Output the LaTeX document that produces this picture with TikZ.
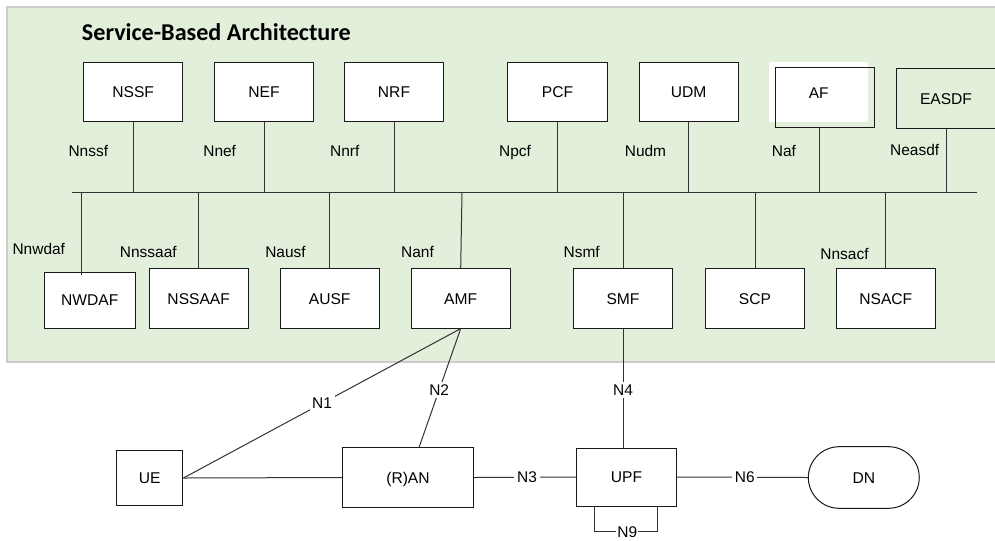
\documentclass[tikz,border=0pt]{standalone}
\usepackage{fontspec}
\setmainfont{Liberation Sans}
\newfontfamily\titlefont{Carlito}
\usetikzlibrary{calc}
\definecolor{sbagreen}{HTML}{E2EFDA}
\definecolor{sbaedge}{HTML}{CCCCCC}
\definecolor{wire}{HTML}{333333}
\begin{document}
\begin{tikzpicture}[x=0.75pt,y=-0.75pt,
  nf/.style={draw=black!90, fill=white, line width=0.75pt, inner sep=0pt,
    font=\fontsize{11.7}{14}\selectfont, text height=8.6pt, text depth=0pt,
    minimum width=74.5pt, minimum height=44.7pt},
  lbl/.style={inner sep=0.5pt, font=\fontsize{11.6}{14}\selectfont,
    text height=8.5pt, text depth=0pt},
  ilbl/.style={lbl, fill=white, inner sep=2pt},
  wirel/.style={draw=wire, line width=0.75pt}]
\useasboundingbox (0,0) rectangle (995,540);

% service-based area
\fill[sbagreen] (7,7) rectangle (995,362);
\draw[sbaedge, line width=0.9pt] (995,7) -- (7,7) -- (7,362) -- (995,362);
\node[anchor=west, inner sep=0pt, font=\titlefont\bfseries\fontsize{18.1}{22}\selectfont]
  (title) at (81.7,31.7) {Service-Based Architecture};

% upper network functions
\node[nf] (nssf) at (133.2,91.9) {NSSF};
\node[nf] (nef)  at (264,91.9)   {NEF};
\node[nf] (nrf)  at (394,91.9)   {NRF};
\node[nf] (pcf)  at (557.5,91.9) {PCF};
\node[nf] (udm)  at (688.7,91.9) {UDM};
\node[fill=white, inner sep=0pt, minimum width=74.5pt, minimum height=44.7pt] (afbg) at (818.8,91.9) {};
\node[draw=black!90, line width=0.75pt, inner sep=0pt, minimum width=74.5pt, minimum height=44.7pt] (af) at (824.8,97.3) {};
\node[lbl, inner sep=0pt] (aftext) at (818.8,92.4) {AF};
\node[nf, fill=none] (easdf) at (946,98.5) {EASDF};

% lower network functions
\node[nf, minimum width=68.5pt, minimum height=42pt] (nwdaf) at (89.7,300) {NWDAF};
\node[nf] (nssaaf) at (198.7,298.3) {NSSAAF};
\node[nf] (ausf)   at (329.7,298.3) {AUSF};
\node[nf] (amf)    at (460.7,298.3) {AMF};
\node[nf] (smf)    at (623,298.3)   {SMF};
\node[nf] (scp)    at (755,298.3)   {SCP};
\node[nf] (nsacf)  at (885.8,298.3) {NSACF};

% service bus
\coordinate (busL) at (71.7,192.3);
\coordinate (busR) at (976.7,192.3);
\draw[wirel] (busL) -- (busR);

\draw[wirel] (nssf.south) -- (nssf.south |- busL);
\draw[wirel] (nef.south)  -- (nef.south |- busL);
\draw[wirel] (nrf.south)  -- (nrf.south |- busL);
\draw[wirel] (pcf.south)  -- (pcf.south |- busL);
\draw[wirel] (udm.south)  -- (udm.south |- busL);
\coordinate (afport) at ($(af.south)+(-5,0)$);
\draw[wirel] (afport) -- (afport |- busL);
\draw[wirel] (easdf.south) -- (easdf.south |- busL);

\coordinate (nwdaftap) at (81.7,275.3);
\draw[wirel] (nwdaftap |- busL) -- (nwdaftap);
\draw[wirel] (nssaaf.north) -- (nssaaf.north |- busL);
\draw[wirel] (ausf.north) -- (ausf.north |- busL);
\coordinate (amftap) at ($(amf.north |- busL)+(1.3,0)$);
\draw[wirel] (amftap) -- (amf.north);
\draw[wirel] (smf.north) -- (smf.north |- busL);
\draw[wirel] (scp.north) -- (scp.north |- busL);
\draw[wirel] (nsacf.north) -- (nsacf.north |- busL);

% service interface labels
\node[lbl] (lnssf)  at (88.3,150.7)  {Nnssf};
\node[lbl] (lnef)   at (219.7,150.7) {Nnef};
\node[lbl] (lnrf)   at (344.7,150.7) {Nnrf};
\node[lbl] (lnpcf)  at (515,150.7)   {Npcf};
\node[lbl] (lnudm)  at (645.5,150.7) {Nudm};
\node[lbl] (lnaf)   at (784,150.7)   {Naf};
\node[lbl] (lneasdf) at (914.7,150)  {Neasdf};
\node[lbl] (lnnwdaf) at (38.8,249.3) {Nnwdaf};
\node[lbl] (lnnssaaf) at (148.3,251.7) {Nnssaaf};
\node[lbl] (lnausf) at (285.5,251.7) {Nausf};
\node[lbl] (lnanf)  at (417.5,251.7) {Nanf};
\node[lbl] (lnsmf)  at (581.7,251.7) {Nsmf};
\node[lbl] (lnnsacf) at (844.5,254.3) {Nnsacf};

% user plane and access
\node[nf, minimum width=49.7pt, minimum height=41.5pt] (ue) at (149.8,478) {UE};
\node[nf, minimum width=98.5pt, minimum height=44.3pt] (ran) at (408,477.5) {(R)AN};
\node[nf, minimum width=75.3pt, minimum height=43.5pt] (upf) at (626.5,477) {UPF};
\node[nf, minimum width=83.2pt, minimum height=46.2pt, rounded corners=23.1pt] (dn) at (863.8,477.5) {DN};

\draw[wirel] (ue.east) -- node[ilbl, pos=0.5] (ln1) {N1} (amf.south);
\coordinate (rantap) at ($(ran.north)+(11,0)$);
\draw[wirel] (rantap) -- node[ilbl, pos=0.483] (ln2) {N2} (amf.south);
\draw[wirel] (ue.east) -- (ran.west);
\draw[wirel] (ran.east) -- node[ilbl, pos=0.52] (ln3) {N3} (upf.west);
\draw[wirel] (smf.south) -- node[ilbl, pos=0.517] (ln4) {N4} (smf.south |- upf.north);
\draw[wirel] (upf.east) -- node[ilbl, pos=0.517] (ln6) {N6} (dn.west);

% N9 loop between UPF instances
\coordinate (n9a) at ($(upf.south)+(-32.2,0)$);
\coordinate (n9b) at ($(upf.south)+(31.2,0)$);
\draw[wirel] (n9a) -- ($(n9a)+(0,25)$) -- node[ilbl, inner sep=1pt, pos=0.52] (ln9) {N9} ($(n9b)+(0,25)$) -- (n9b);
\end{tikzpicture}
\end{document}
